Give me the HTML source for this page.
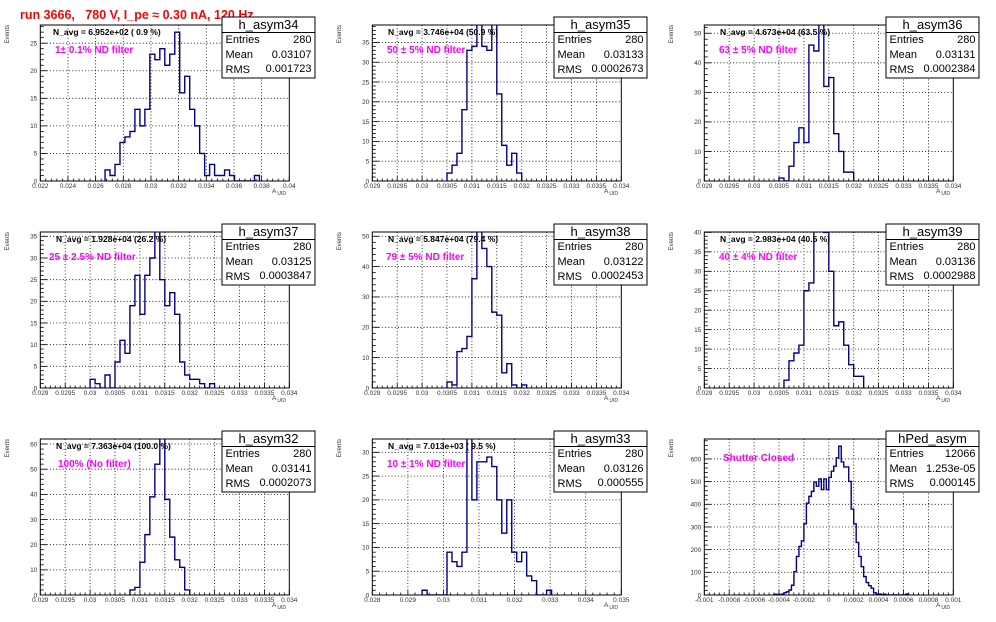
<!DOCTYPE html>
<html><head><meta charset="utf-8"><style>
html,body{margin:0;padding:0;background:#fff;}
svg{display:block;font-family:"Liberation Sans",Arial,sans-serif;}
</style></head><body>
<svg id="c" width="996" height="622" viewBox="0 0 996 622">
<rect x="0" y="0" width="996" height="622" fill="#fff"/>
<text x="20" y="19" fill="#ff0000" font-weight="bold" font-size="12.5" xml:space="preserve">run 3666,   780 V, I_pe ≈ 0.30 nA, 120 Hz</text>
</svg>
<script>
// histogram bin contents (starting at first listed bin index)
const vals34 = [2,1,3,7,8,9,13,10,13,23,22,24,21,23,27,16,19,13,10,5,1,3,1,1,2,1,0,0,0,0,1];
const vals35 = [2,4,7,18,33,34,42,34,33,42,22,9,4,7,2];
const vals36 = [1,0,5,13,18,13,46,44,58,32,35,16,10,3,3];
const vals37 = [2,1,0,3,0,6,11,8,19,26,17,26,30,38,25,19,22,17,6,3,2,2,1,0,1];
const vals38 = [2,1,12,13,17,36,53,46,40,25,24,5,8,1,0,1];
const vals39 = [2,7,9,11,25,27,41,42,40,30,16,17,11,6,3,3];
const vals32 = [2,3,13,24,39,52,65,38,23,14,11,2];
const vals33 = [1,0,0,0,0,9,7,6,9,35,20,28,28,29,27,20,13,20,9,7,9,4,3,0,0,1];
const valsPed = [3,3,1,4,10,14,22,43,103,170,214,239,314,405,435,457,498,480,512,465,512,465,519,546,568,605,656,587,565,565,501,379,314,232,170,125,81,55,41,30,10,4,4,2,3,0,0,0,0,0,0,0,0,4];
const firstBins = [13,15,15,10,15,16,18,10,28];
const histNames = ["h_asym34","h_asym35","h_asym36","h_asym37","h_asym38","h_asym39","h_asym32","h_asym33","hPed_asym"];
const entries = ["280","280","280","280","280","280","280","280","12066"];
const means = ["0.03107","0.03133","0.03131","0.03125","0.03122","0.03136","0.03141","0.03126","1.253e-05"];
const rmss = ["0.001723","0.0002673","0.0002384","0.0003847","0.0002453","0.0002988","0.0002073","0.000555","0.000145"];
const navgs = ["N_avg = 6.952e+02 ( 0.9 %)","N_avg = 3.746e+04 (50.9 %)","N_avg = 4.673e+04 (63.5 %)","N_avg = 1.928e+04 (26.2 %)","N_avg = 5.847e+04 (79.4 %)","N_avg = 2.983e+04 (40.5 %)","N_avg = 7.363e+04 (100.0 %)","N_avg = 7.013e+03 ( 9.5 %)",""];
const filterLabels = ["1± 0.1% ND filter","50 ± 5% ND filter","63 ± 5% ND filter","25 ± 2.5% ND filter","79 ± 5% ND filter","40 ± 4% ND filter","100% (No filter)","10 ± 1% ND filter","Shutter Closed"];
const xLo = [0.022,0.029,0.029,0.029,0.029,0.029,0.029,0.028,-0.001];
const xHi = [0.04,0.034,0.034,0.034,0.034,0.034,0.034,0.035,0.001];
const nBins = [50,50,50,50,50,50,50,50,100];
const xStep = [0.002,0.0005,0.0005,0.0005,0.0005,0.0005,0.0005,0.001,0.0002];
const yMax = [28.3,39.4,52.8,36,51.4,40.1,62,32.8,688];
const yStep = [5,5,10,5,10,5,10,5,100];

const allVals = [vals34,vals35,vals36,vals37,vals38,vals39,vals32,vals33,valsPed];
const NS = "http://www.w3.org/2000/svg";
const svg = document.getElementById('c');
function mk(tag, attrs, parent){const e=document.createElementNS(NS,tag);for(const k in attrs)e.setAttribute(k,attrs[k]);(parent||svg).appendChild(e);return e;}
function fmt(v){let s=String(+v.toFixed(6)); if(Math.abs(v)<1e-12) s="0"; return s;}

for(let p=0;p<9;p++){
  const ox=(p%3)*332, oy=Math.floor(p/3)*207;
  const g=mk('g',{transform:`translate(${ox},${oy})`});
  
  
  const L=40.3,R=289.3,T=25,B=181;
  const xs=v=>L+(v-xLo[p])/(xHi[p]-xLo[p])*(R-L);
  const ys=v=>B-Math.min(v,yMax[p]*1.2)/yMax[p]*(B-T);
  // clip
  const cid='clip'+p;
  const cp=mk('clipPath',{id:cid},g); mk('rect',{x:L,y:T,width:R-L,height:B-T},cp);
  // grid
  const nx=Math.round((xHi[p]-xLo[p])/xStep[p]);
  for(let i=0;i<=nx;i++){
    const v=xLo[p]+i*xStep[p], x=xs(v);
    if(i>0&&i<nx){const gl=mk('line',{x1:x,y1:T,x2:x,y2:B,stroke:'#000','stroke-width':0.8,'stroke-dasharray':'1,2.2'},g);
      }
    mk('line',{x1:x,y1:B,x2:x,y2:B-5,stroke:'#000','stroke-width':0.8},g);
    if(i<nx) for(let m=1;m<5;m++){const xm=xs(v+m*xStep[p]/5);mk('line',{x1:xm,y1:B,x2:xm,y2:B-2.5,stroke:'#000','stroke-width':0.8},g);}
    const t=mk('text',{x:x,y:B+7,'font-size':6.5,fill:'#333','text-anchor':'middle'},g);t.textContent=fmt(v);
    
  }
  for(let v=0;v<=yMax[p];v+=yStep[p]){
    const y=ys(v);
    if(v>0){const gl=mk('line',{x1:L,y1:y,x2:R,y2:y,stroke:'#000','stroke-width':0.8,'stroke-dasharray':'1,2.2'},g);
      }
    mk('line',{x1:L,y1:y,x2:L+7,y2:y,stroke:'#000','stroke-width':0.8},g);
    for(let m=1;m<5;m++){const vm=v+m*yStep[p]/5; if(vm<yMax[p]){const ym=ys(vm);mk('line',{x1:L,y1:ym,x2:L+3.5,y2:ym,stroke:'#000','stroke-width':0.8},g);}}
    if(v>0||p<9){const t=mk('text',{x:L-3,y:y+2.3,'font-size':6.5,fill:'#333','text-anchor':'end'},g);t.textContent=String(v);
    }
  }
  // histogram
  const vals=allVals[p], bw=(xHi[p]-xLo[p])/nBins[p];
  let d='';
  for(let i=0;i<vals.length;i++){
    const b=firstBins[p]+i, x0=xs(xLo[p]+b*bw), x1=xs(xLo[p]+(b+1)*bw), y=ys(vals[i]);
    if(i===0) d+=`M${x0},${ys(0)}`;
    d+=`L${x0},${y}L${x1},${y}`;
    if(i===vals.length-1) d+=`L${x1},${ys(0)}`;
  }
  const h=mk('path',{d:d,fill:'none',stroke:'#00008c','stroke-width':1.4,'clip-path':`url(#${cid})`},g);
  
  
  // frame
  const fr=mk('rect',{x:L,y:T,width:R-L,height:B-T,fill:'none',stroke:'#000','stroke-width':1},g);
  
  // axis titles
  const yt=mk('text',{x:0,y:0,'font-size':6,fill:'#333','text-anchor':'end',transform:`translate(9,25) rotate(-90)`},g);
  yt.textContent='Events';
  
  const xt=mk('text',{x:272,y:193,'font-size':6.5,fill:'#333'},g);
  xt.innerHTML='A<tspan font-size="5" dy="2" dx="1">UID</tspan>';
  
  // labels
  if(navgs[p]){const n=mk('text',{x:p===0?53:56,y:35,'font-size':8.5,'font-weight':'bold',fill:'#000'},g);n.textContent=navgs[p];
    }
  const fl=mk('text',{x:[55,55,55,49,54,55,58,55,59][p],y:p===8?47:53,'font-size':10,'font-weight':'bold',fill:'#ff00ff'},g);
  fl.textContent=filterLabels[p];
  
  // stats box
  const sb=mk('g',{},g);
  
  mk('rect',{x:222,y:17,width:93,height:61,fill:'#fff',stroke:'#000','stroke-width':1},sb);
  mk('line',{x1:222,y1:32.5,x2:315,y2:32.5,stroke:'#000','stroke-width':1},sb);
  const st=mk('text',{x:268.5,y:29,'font-size':13,'text-anchor':'middle',fill:'#000'},sb);st.textContent=histNames[p];
  
  const rows=[['Entries',entries[p],43],['Mean',means[p],58],['RMS',rmss[p],73]];
  for(const r of rows){
    const a=mk('text',{x:225.5,y:r[2],'font-size':11,fill:'#000'},sb);a.textContent=r[0];
    
    const b=mk('text',{x:311.5,y:r[2]-(r[0]==='RMS'?1:0),'font-size':11,fill:'#000','text-anchor':'end'},sb);b.textContent=r[1];
    
  }
}
</script>
</body></html>
